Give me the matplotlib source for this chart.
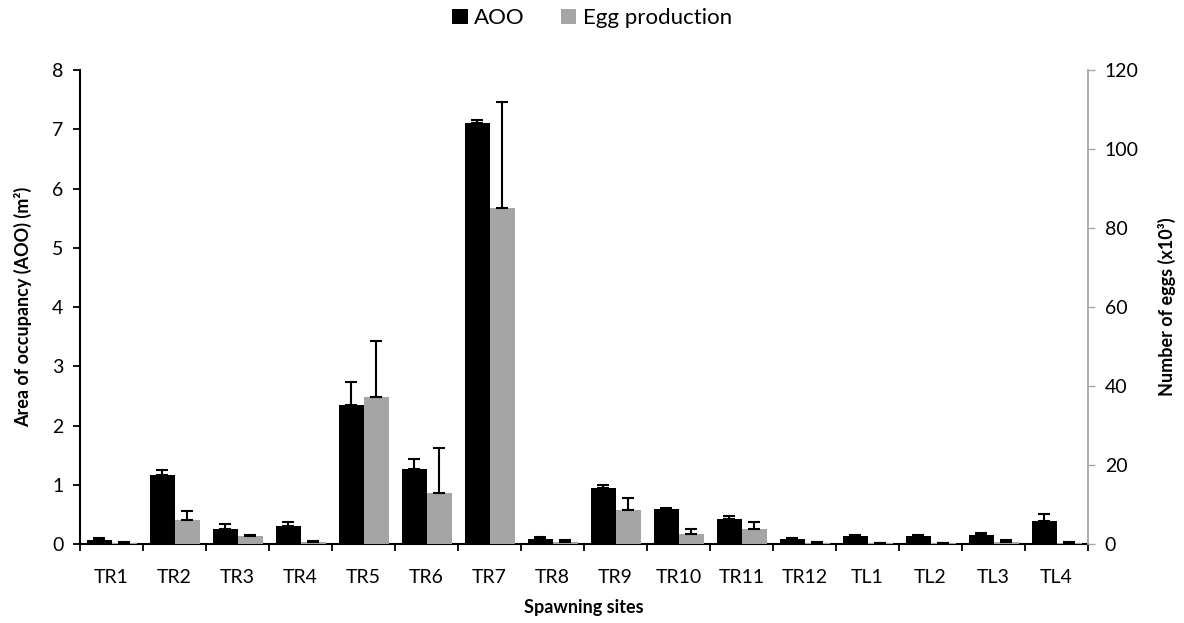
import numpy as np
import matplotlib
matplotlib.use('Agg')
import matplotlib.pyplot as plt
from matplotlib.patches import Patch

plt.rcParams['font.family'] = ['Lato', 'DejaVu Sans']

# Data
sites = ['TR1', 'TR2', 'TR3', 'TR4', 'TR5', 'TR6', 'TR7', 'TR8',
         'TR9', 'TR10', 'TR11', 'TR12', 'TL1', 'TL2', 'TL3', 'TL4']
aoo = [0.07, 1.16, 0.25, 0.30, 2.35, 1.26, 7.11, 0.09,
       0.94, 0.59, 0.42, 0.09, 0.13, 0.13, 0.16, 0.39]
aoo_err = [0.03, 0.09, 0.08, 0.07, 0.39, 0.18, 0.04, 0.02,
           0.06, 0.01, 0.05, 0.015, 0.02, 0.02, 0.02, 0.11]
eggs = [0.2, 6.0, 1.9, 0.55, 37.2, 12.9, 85.0, 0.6,
        8.7, 2.5, 3.7, 0.3, 0.2, 0.25, 0.6, 0.3]
eggs_err = [0.4, 2.3, 0.3, 0.3, 14.3, 11.4, 26.9, 0.3,
            2.9, 1.2, 1.8, 0.1, 0.1, 0.1, 0.5, 0.25]

BLACK = '#000000'
GREY = '#a5a5a5'
AXGREY = '#a6a6a6'

x = np.arange(len(sites))
w = 0.397

fig = plt.figure(figsize=(11.84, 6.23), dpi=100)
ax1 = fig.add_axes([0.0676, 0.1268, 0.8514, 0.7608])
ax2 = ax1.twinx()

ax1.bar(x - w / 2, aoo, w, color=BLACK, zorder=2)
ax1.errorbar(x - w / 2, aoo, yerr=[np.zeros(len(aoo)), aoo_err], fmt='none',
             ecolor=BLACK, elinewidth=1.5, capsize=4.3, capthick=1.5, zorder=3)
ax2.bar(x + w / 2, eggs, w, color=GREY, zorder=2)
ax2.errorbar(x + w / 2, eggs, yerr=[np.zeros(len(eggs)), eggs_err], fmt='none',
             ecolor=BLACK, elinewidth=1.5, capsize=4.3, capthick=1.5, zorder=3)

ax1.set_xlim(-0.5, len(sites) - 0.5)
ax1.set_ylim(0, 8)
ax2.set_ylim(0, 120)
ax1.set_yticks(range(0, 9))
ax2.set_yticks(range(0, 121, 20))

ax1.set_xticks(x)
ax1.set_xticklabels(sites)
ax1.set_xticks(np.arange(-0.5, len(sites), 1), minor=True)
ax1.tick_params(axis='x', which='major', length=0, pad=18, labelsize=14)
ax1.tick_params(axis='x', which='minor', length=5, width=1.3, direction='out')
ax1.tick_params(axis='y', length=5, width=1.3, labelsize=14, pad=7)
ax2.tick_params(axis='y', length=5, width=1.0, color=AXGREY, labelsize=14, pad=7)

for s in ['top', 'right']:
    ax1.spines[s].set_visible(False)
ax1.spines['left'].set_linewidth(1.5)
ax1.spines['bottom'].set_linewidth(1.5)
ax2.spines['top'].set_visible(False)
ax2.spines['left'].set_visible(False)
ax2.spines['bottom'].set_visible(False)
ax2.spines['right'].set_color(AXGREY)
ax2.spines['right'].set_linewidth(1.3)

ax1.set_ylabel('Area of occupancy (AOO) (m²)', fontsize=13, fontweight='bold', labelpad=14)
ax2.set_ylabel('Number of eggs (x10³)', fontsize=13, fontweight='bold', labelpad=14)
ax1.set_xlabel('Spawning sites', fontsize=13, fontweight='bold', labelpad=9)

handles = [Patch(facecolor=BLACK, label='AOO'), Patch(facecolor=GREY, label='Egg production')]
fig.legend(handles=handles, loc='center', bbox_to_anchor=(0.5, 0.971), ncol=2, frameon=False,
           fontsize=16, handlelength=0.7, handleheight=0.7, handletextpad=0.3, columnspacing=1.6)

fig.savefig('out.png', dpi=100)
